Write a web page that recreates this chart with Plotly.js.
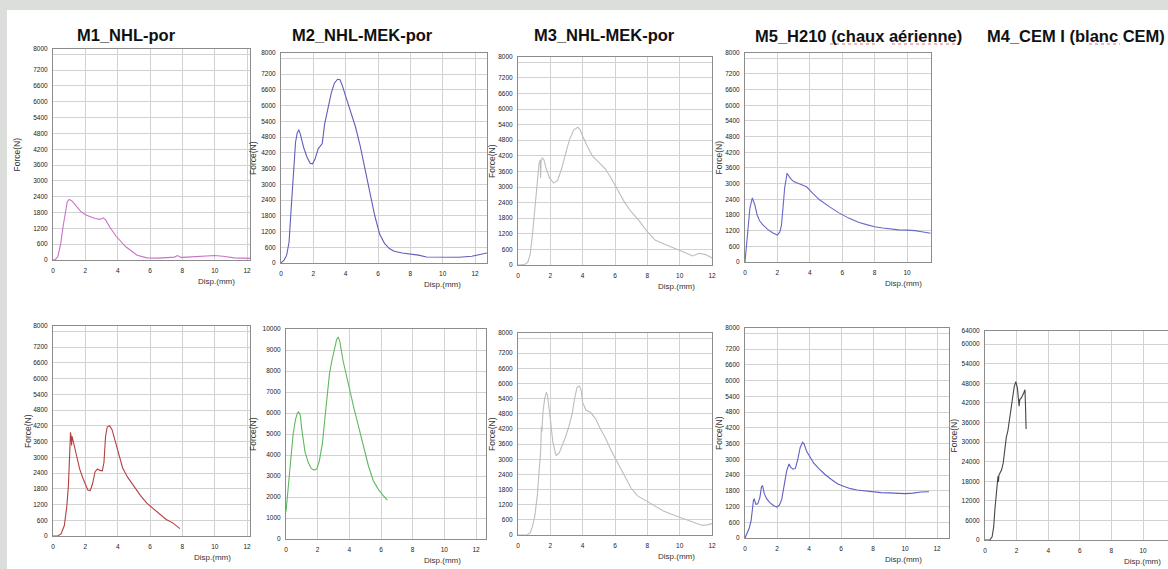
<!DOCTYPE html>
<html>
<head>
<meta charset="utf-8">
<script src="https://cdn.plot.ly/plotly-3.0.1.min.js"></script>
<style>html,body{margin:0;padding:0;background:#dcdedc;}#chart{width:1168px;height:569px;}</style>
</head>
<body>
<div id="chart"></div>
<script>
// ---------------- DATA ----------------
var titles = ["M1_NHL-por", "M2_NHL-MEK-por", "M3_NHL-MEK-por", "M5_H210 (chaux aérienne)", "M4_CEM I (blanc CEM)"];
var forceTicks8000 = [0, 600, 1200, 1800, 2400, 3000, 3600, 4200, 4800, 5400, 6000, 6600, 7200, 7800, 8000];
var forceText8000 = ["0", "600", "1200", "1800", "2400", "3000", "3600", "4200", "4800", "5400", "6000", "6600", "7200", "", "8000"];
var forceTicks10000 = [0, 1000, 2000, 3000, 4000, 5000, 6000, 7000, 8000, 9000, 10000];
var forceText10000 = ["0", "1000", "2000", "3000", "4000", "5000", "6000", "7000", "8000", "9000", "10000"];
var forceTicks64000 = [0, 6000, 12000, 18000, 24000, 30000, 36000, 42000, 48000, 54000, 60000, 64000];
var forceText64000 = ["0", "6000", "12000", "18000", "24000", "30000", "36000", "42000", "48000", "54000", "60000", "64000"];
var dispTicks = [0, 2, 4, 6, 8, 10, 12];

// M1 NHL-por, top
var m1aX = [0, 0.15, 0.3, 0.48, 0.62, 0.75, 0.88, 1.0, 1.15, 1.3, 1.45, 1.7, 2.0, 2.3, 2.6, 2.9, 3.1, 3.25, 3.5, 3.9, 4.5, 5.2, 5.8, 6.5, 7.0, 7.5, 7.7, 7.9, 8.3, 9.0, 9.5, 10.0, 10.5, 11.2, 12.2];
var m1aY = [0, 20, 130, 630, 1260, 1770, 2200, 2300, 2250, 2150, 2020, 1850, 1720, 1630, 1570, 1540, 1600, 1520, 1260, 900, 500, 180, 80, 70, 90, 110, 170, 100, 110, 130, 160, 170, 140, 80, 60];
// M2 NHL-MEK-por, top
var m2aX = [0, 0.2, 0.35, 0.5, 0.6, 0.7, 0.8, 0.9, 1.0, 1.1, 1.2, 1.4, 1.6, 1.8, 1.95, 2.1, 2.3, 2.45, 2.55, 2.7, 2.9, 3.1, 3.3, 3.5, 3.65, 3.8, 4.0, 4.3, 4.6, 4.9, 5.2, 5.5, 5.8, 6.1, 6.4, 6.7, 7.0, 7.5, 8.0, 8.5, 9.0, 10.0, 11.0, 11.8, 12.3, 12.74];
var m2aY = [0, 120, 300, 800, 1800, 2900, 3900, 4600, 4950, 5080, 4900, 4400, 4050, 3800, 3780, 3950, 4350, 4500, 4550, 5300, 5950, 6450, 6850, 7000, 6980, 6750, 6350, 5800, 5200, 4450, 3600, 2700, 1800, 1100, 750, 550, 450, 380, 340, 300, 230, 220, 220, 260, 320, 380];
// M3 NHL-MEK-por, top
var m3aX = [0, 0.4, 0.6, 0.75, 0.9, 1.05, 1.2, 1.3, 1.38, 1.4, 1.43, 1.5, 1.6, 1.75, 1.95, 2.2, 2.45, 2.7, 2.95, 3.2, 3.45, 3.7, 3.85, 4.0, 4.3, 4.6, 5.0, 5.4, 5.8, 6.2, 6.6, 7.0, 7.5, 8.0, 8.5, 9.0, 9.5, 10.0, 10.5, 10.8, 11.2, 11.6, 12.0];
var m3aY = [0, 20, 100, 400, 1200, 2300, 3300, 3900, 4050, 3350, 4000, 4120, 4050, 3700, 3350, 3150, 3250, 3700, 4300, 4850, 5200, 5300, 5200, 4950, 4550, 4200, 3950, 3700, 3300, 2850, 2400, 2050, 1700, 1280, 950, 820, 680, 560, 430, 350, 450, 400, 270];
// M5 H210, top
var m5aX = [0, 0.1, 0.2, 0.3, 0.45, 0.6, 0.75, 0.9, 1.1, 1.4, 1.7, 2.0, 2.15, 2.25, 2.35, 2.45, 2.6, 2.7, 2.8, 3.0, 3.4, 3.8, 4.2, 4.6, 5.2, 5.8, 6.4, 7.0, 7.5, 8.0, 8.5, 9.0, 9.5, 10.0, 10.5, 11.0, 11.45];
var m5aY = [0, 600, 1350, 2050, 2450, 2200, 1800, 1580, 1420, 1250, 1120, 1030, 1150, 1400, 2100, 2850, 3400, 3300, 3200, 3080, 2980, 2880, 2620, 2380, 2120, 1880, 1680, 1520, 1430, 1350, 1300, 1260, 1230, 1220, 1200, 1150, 1100];
// M1 NHL-por, bottom
var m1bX = [0, 0.3, 0.5, 0.7, 0.85, 0.95, 1.03, 1.08, 1.12, 1.15, 1.18, 1.22, 1.3, 1.45, 1.65, 1.85, 2.0, 2.15, 2.3, 2.45, 2.6, 2.75, 2.9, 3.05, 3.15, 3.25, 3.35, 3.5, 3.65, 3.8, 3.95, 4.1, 4.3, 4.6, 5.0, 5.4, 5.8, 6.2, 6.6, 7.0, 7.4, 7.85];
var m1bY = [0, 10, 80, 400, 1100, 1900, 3100, 3950, 3800, 3450, 3800, 3700, 3550, 3150, 2550, 2200, 1950, 1750, 1730, 2000, 2450, 2550, 2500, 2480, 2800, 3800, 4150, 4200, 4050, 3700, 3450, 3000, 2600, 2250, 1900, 1550, 1250, 1050, 850, 630, 500, 280];
// M2 NHL-MEK-por, bottom
var m2bX = [0, 0.15, 0.3, 0.45, 0.6, 0.72, 0.8, 0.9, 1.0, 1.2, 1.4, 1.6, 1.8, 1.95, 2.1, 2.3, 2.45, 2.6, 2.75, 2.9, 3.05, 3.2, 3.3, 3.4, 3.6, 3.8, 4.0, 4.3, 4.6, 4.9, 5.2, 5.5, 5.8, 6.1, 6.4];
var m2bY = [1300, 2500, 3900, 5000, 5700, 6000, 6050, 5900, 5200, 4150, 3650, 3350, 3280, 3350, 3700, 4550, 5700, 6900, 7900, 8500, 9000, 9500, 9620, 9400, 8500, 7800, 7100, 6200, 5300, 4400, 3500, 2800, 2400, 2100, 1850];
// M3 NHL-MEK-por, bottom
var m3bX = [0, 0.55, 0.75, 0.9, 1.05, 1.2, 1.3, 1.4, 1.45, 1.48, 1.5, 1.55, 1.65, 1.75, 1.82, 1.9, 2.0, 2.15, 2.35, 2.55, 2.75, 2.95, 3.15, 3.35, 3.5, 3.65, 3.8, 3.9, 4.0, 4.2, 4.5, 4.8, 5.1, 5.4, 5.8, 6.2, 6.6, 7.0, 7.4, 7.8, 8.2, 8.6, 9.0, 9.5, 10.0, 10.5, 11.0, 11.4, 11.7, 12.0];
var m3bY = [0, 0, 80, 350, 800, 1600, 2500, 3300, 4300, 4100, 4400, 4900, 5400, 5650, 5550, 5200, 4600, 3700, 3150, 3250, 3550, 3900, 4300, 4800, 5400, 5850, 5900, 5750, 5250, 4950, 4850, 4600, 4200, 3850, 3300, 2800, 2300, 1850, 1550, 1400, 1250, 1100, 950, 820, 700, 600, 450, 380, 400, 450];
// M5 H210, bottom
var m5bX = [0, 0.1, 0.25, 0.38, 0.46, 0.53, 0.58, 0.68, 0.8, 0.93, 1.03, 1.1, 1.2, 1.35, 1.55, 1.8, 2.0, 2.15, 2.3, 2.45, 2.6, 2.75, 2.85, 3.0, 3.15, 3.3, 3.45, 3.6, 3.7, 3.85, 4.0, 4.3, 4.6, 5.0, 5.4, 5.8, 6.2, 6.6, 7.0, 7.5, 8.0, 8.5, 9.0, 9.5, 10.0, 10.5, 11.0, 11.5];
var m5bY = [0, 150, 350, 650, 1150, 1450, 1480, 1280, 1300, 1550, 1950, 2000, 1700, 1500, 1350, 1230, 1180, 1250, 1480, 1950, 2550, 2820, 2700, 2620, 2650, 3000, 3450, 3650, 3580, 3300, 3150, 2850, 2650, 2420, 2230, 2060, 1960, 1880, 1830, 1790, 1750, 1730, 1720, 1710, 1690, 1710, 1750, 1760];
// M4 CEM I, bottom
var m4bX = [0, 0.3, 0.45, 0.55, 0.62, 0.7, 0.77, 0.82, 0.85, 0.88, 0.95, 1.05, 1.15, 1.25, 1.35, 1.45, 1.55, 1.65, 1.75, 1.85, 1.95, 2.05, 2.12, 2.16, 2.2, 2.3, 2.45, 2.53, 2.57, 2.6];
var m4bY = [0, 0, 1000, 4000, 9000, 13500, 17500, 19500, 17800, 19800, 20500, 21500, 23500, 27500, 31500, 33500, 37000, 40500, 44500, 47000, 48500, 46500, 43000, 41000, 43000, 43500, 45000, 46000, 40000, 34000];

// ---------------- LAYOUT CONFIG ----------------
var W = 1168, H = 569;
function fx(p) { return p / W; }
function fy(p) { return 1 - p / H; }

var panels = [
  {x: m1aX, y: m1aY, color: '#c873c8', px: [53, 250], py: [49, 260], xmax: 12.18, yv: forceTicks8000, yt: forceText8000, ymax: 8000, fX: 16, dR: 237},
  {x: m2aX, y: m2aY, color: '#5f5fb8', px: [281, 487], py: [53, 263], xmax: 12.74, yv: forceTicks8000, yt: forceText8000, ymax: 8000, fX: 253, dR: 463},
  {x: m3aX, y: m3aY, color: '#bdbdbd', px: [518, 712], py: [57, 265], xmax: 12.0, yv: forceTicks8000, yt: forceText8000, ymax: 8000, fX: 492, dR: 697},
  {x: m5aX, y: m5aY, color: '#6868c8', px: [745, 931], py: [53, 262], xmax: 11.48, yv: forceTicks8000, yt: forceText8000, ymax: 8000, fX: 719, dR: 924},
  {x: m1bX, y: m1bY, color: '#b44040', px: [53, 250], py: [326, 536], xmax: 12.18, yv: forceTicks8000, yt: forceText8000, ymax: 8000, fX: 28, dR: 233},
  {x: m2bX, y: m2bY, color: '#5fb85f', px: [286, 486], py: [329, 539], xmax: 12.63, yv: forceTicks10000, yt: forceText10000, ymax: 10000, fX: 253, dR: 463},
  {x: m3bX, y: m3bY, color: '#bdbdbd', px: [518, 712], py: [333, 535], xmax: 12.0, yv: forceTicks8000, yt: forceText8000, ymax: 8000, fX: 492, dR: 697},
  {x: m5bX, y: m5bY, color: '#5f5fc4', px: [745, 949], py: [328, 538], xmax: 12.75, yv: forceTicks8000, yt: forceText8000, ymax: 8000, fX: 719, dR: 924},
  {x: m4bX, y: m4bY, color: '#454545', px: [985, 1168], py: [331, 540], xmax: 11.58, yv: forceTicks64000, yt: forceText64000, ymax: 64000, fX: 953, dR: 1163}
];

var titlePos = [[126, 35], [362, 35], [604, 35], [858, 36], [1076, 36]];

var FONT = 'Liberation Sans, Arial, Helvetica, sans-serif';
var traces = [];
var layout = {
  width: W, height: H,
  margin: {l: 0, r: 0, t: 0, b: 0, pad: 0},
  paper_bgcolor: '#dcdedc',
  plot_bgcolor: '#ffffff',
  showlegend: false,
  font: {family: FONT, color: '#333'},
  annotations: [],
  shapes: [
    {type: 'rect', xref: 'paper', yref: 'paper', x0: fx(7), x1: 1, y0: 0, y1: fy(10), fillcolor: '#ffffff', line: {width: 0}, layer: 'below'}
  ]
};

panels.forEach(function (p, i) {
  var n = i + 1;
  var xa = 'x' + (n === 1 ? '' : n), ya = 'y' + (n === 1 ? '' : n);
  traces.push({x: p.x, y: p.y, xaxis: xa, yaxis: ya, type: 'scatter', mode: 'lines',
    line: {color: p.color, width: 1.1}, hoverinfo: 'skip'});
  var xk = 'xaxis' + (n === 1 ? '' : n), yk = 'yaxis' + (n === 1 ? '' : n);
  layout[xk] = {
    domain: [fx(p.px[0]), fx(p.px[1])], anchor: ya, range: [0, p.xmax],
    tickmode: 'array', tickvals: dispTicks, ticktext: dispTicks.map(String),
    showgrid: true, gridcolor: '#d2d2d2', gridwidth: 1, zeroline: false,
    showline: true, linecolor: '#8c8c8c', linewidth: 1, mirror: true,
    ticks: '', ticklabelstandoff: 4, tickfont: {size: 6.5, color: '#222', family: FONT},
    fixedrange: true
  };
  layout[yk] = {
    domain: [fy(p.py[1]), fy(p.py[0])], anchor: xa, range: [0, p.ymax],
    tickmode: 'array', tickvals: p.yv, ticktext: p.yt,
    showgrid: true, gridcolor: '#d2d2d2', gridwidth: 1, zeroline: false,
    showline: true, linecolor: '#8c8c8c', linewidth: 1, mirror: true,
    ticks: '', ticklabelstandoff: 3, tickfont: {size: 6.5, color: '#222', family: FONT},
    fixedrange: true
  };
  layout.annotations.push({
    text: 'Force(N)', xref: 'paper', yref: 'paper', x: fx(p.fX), y: fy((p.py[0] + p.py[1]) / 2),
    xanchor: 'center', yanchor: 'middle', textangle: -90, showarrow: false,
    font: {size: 8.5, color: '#333', family: FONT}
  });
  layout.annotations.push({
    text: 'Disp.(mm)', xref: 'paper', yref: 'paper', x: fx(p.dR), y: fy(p.py[1] + 21),
    xanchor: 'right', yanchor: 'middle', showarrow: false,
    font: {size: 8, color: '#333', family: FONT}
  });
});

titles.forEach(function (t, i) {
  layout.annotations.push({
    text: '<b>' + t + '</b>', xref: 'paper', yref: 'paper', x: fx(titlePos[i][0]), y: fy(titlePos[i][1]),
    xanchor: 'center', yanchor: 'middle', showarrow: false,
    font: {size: 16.5, color: '#111', family: FONT}
  });
});

// spell-check style underlines in the titles
[[830, 877], [892, 960], [1089, 1120]].forEach(function (u) {
  layout.shapes.push({type: 'line', xref: 'paper', yref: 'paper', x0: fx(u[0]), x1: fx(u[1]), y0: fy(44), y1: fy(44),
    line: {color: '#e07070', width: 1, dash: 'dot'}});
});

Plotly.newPlot('chart', traces, layout, {staticPlot: true, displayModeBar: false});
</script>
</body>
</html>
